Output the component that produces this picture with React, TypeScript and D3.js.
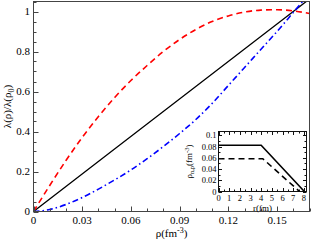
import React from "react";
import * as d3 from "d3";

const rho = [0, 0.01, 0.02, 0.03, 0.04, 0.05, 0.06, 0.07, 0.08, 0.09, 0.1, 0.11, 0.12, 0.13, 0.14, 0.15, 0.16, 0.17];
const redVals = [0, 0.13, 0.255, 0.37, 0.475, 0.57, 0.655, 0.73, 0.8, 0.86, 0.91, 0.95, 0.978, 0.997, 1.007, 1.009, 1.003, 0.99];
const blueVals = [0, 0.01, 0.035, 0.07, 0.112, 0.158, 0.208, 0.264, 0.325, 0.39, 0.46, 0.54, 0.63, 0.72, 0.81, 0.9, 0.995, 1.09];
const blackRho = [0, 0.16, 0.17];
const blackVals = [0, 1, 1.0625];

const xTicks = [0, 0.03, 0.06, 0.09, 0.12, 0.15];
const xTickLabels = ["0", "0.03", "0.06", "0.09", "0.12", "0.15"];
const yTicks = [0, 0.2, 0.4, 0.6, 0.8, 1];
const yTickLabels = ["0", "0.2", "0.4", "0.6", "0.8", "1"];

const insetR = [0, 4, 8.05];
const insetSolid = [0.0825, 0.0825, 0];
const insetDashR = [0, 4.15, 7.6];
const insetDash = [0.0585, 0.0585, 0];
const insetXTicks = [0, 1, 2, 3, 4, 5, 6, 7, 8];
const insetYTicks = [0, 0.02, 0.04, 0.06, 0.08, 0.1];
const insetYTickLabels = ["0", "0.02", "0.04", "0.06", "0.08", "0.1"];

const FONT = "'Liberation Serif', 'Times New Roman', serif";

export default function App() {
  const W = 311, H = 241;
  const L = 33.5, R = 309.5, T = 1.5, B = 211.5;
  const x = d3.scaleLinear().domain([0, 0.17]).range([L, R]);
  const y = d3.scaleLinear().domain([0, 1.05]).range([B, T]);

  const mk = (xs: number[], ys: number[]) =>
    d3.line<number>().x((_, i) => x(xs[i])).y((_, i) => y(ys[i])).curve(d3.curveMonotoneX)(xs.map((_, i) => i)) || "";

  const xMinor = d3.range(0, 0.1701, 0.01).filter((v) => Math.abs(v / 0.03 - Math.round(v / 0.03)) > 1e-6);
  const yMinor = d3.range(0, 1.0501, 0.05).filter((v) => Math.abs(v / 0.2 - Math.round(v / 0.2)) > 1e-6);

  // inset
  const iL = 218.5, iR = 306.5, iT = 131.5, iB = 191.5;
  const ix = d3.scaleLinear().domain([0, 8.25]).range([iL, iR]);
  const iy = d3.scaleLinear().domain([0, 0.107]).range([iB, iT]);
  const iline = (xs: number[], ys: number[]) =>
    d3.line<number>().x((_, i) => ix(xs[i])).y((_, i) => iy(ys[i]))(xs.map((_, i) => i)) || "";
  const ixMinor = d3.range(0.5, 8.25, 1);
  const iyMinor = d3.range(0.01, 0.107, 0.02);

  return (
    <svg width={W} height={H} style={{ position: "fixed", left: 0, top: 0, background: "#fff" }} fontFamily={FONT}>
      <defs>
        <clipPath id="plotClip">
          <rect x={L} y={T} width={R - L} height={B - T} />
        </clipPath>
      </defs>
      <rect x={0} y={0} width={W} height={H} fill="#fff" />
      {/* curves */}
      <g clipPath="url(#plotClip)" fill="none">
        <path d={mk(blackRho, blackVals)} stroke="#000" strokeWidth={1.3} />
        <path d={mk(rho, redVals)} stroke="#ff0000" strokeWidth={1.6} strokeDasharray="6,4" />
        <path d={mk(rho, blueVals)} stroke="#0000ff" strokeWidth={1.6} strokeDasharray="6,3,1.5,3" />
      </g>
      {/* frame */}
      <rect x={L} y={T} width={R - L} height={B - T} fill="none" stroke="#444" strokeWidth={1} />
      {/* x ticks */}
      {xTicks.map((t, i) => (
        <g key={"xt" + i}>
          <line x1={Math.round(x(t)) + 0.5} x2={Math.round(x(t)) + 0.5} y1={B} y2={B - 5} stroke="#444" />
          <text x={x(t)} y={224} fontSize={11} textAnchor="middle">{xTickLabels[i]}</text>
        </g>
      ))}
      {xMinor.map((t, i) => (
        <line key={"xm" + i} x1={Math.round(x(t)) + 0.5} x2={Math.round(x(t)) + 0.5} y1={B} y2={B - 3} stroke="#444" />
      ))}
      {yTicks.map((t, i) => (
        <g key={"yt" + i}>
          <line x1={L} x2={L + 5} y1={Math.round(y(t)) + 0.5} y2={Math.round(y(t)) + 0.5} stroke="#444" />
          <text x={30} y={y(t) + 3.8} fontSize={11} textAnchor="end">{yTickLabels[i]}</text>
        </g>
      ))}
      {yMinor.map((t, i) => (
        <line key={"ym" + i} x1={L} x2={L + 3} y1={Math.round(y(t)) + 0.5} y2={Math.round(y(t)) + 0.5} stroke="#444" />
      ))}
      {/* axis labels */}
      <text x={(L + R) / 2} y={237} fontSize={11} textAnchor="middle">
        ρ(fm<tspan dy={-4} fontSize={8}>-3</tspan><tspan dy={4}>)</tspan>
      </text>
      <text transform={`translate(11,${(T + B) / 2}) rotate(-90)`} fontSize={11} textAnchor="middle">
        λ(ρ)/λ(ρ<tspan dy={3} fontSize={8}>0</tspan><tspan dy={-3}>)</tspan>
      </text>

      {/* inset */}
      <rect x={iL} y={iT} width={iR - iL} height={iB - iT} fill="#fff" stroke="#111" strokeWidth={1} />
      <g fill="none">
        <path d={iline(insetR, insetSolid)} stroke="#000" strokeWidth={1.6} />
        <path d={iline(insetDashR, insetDash)} stroke="#000" strokeWidth={1.6} strokeDasharray="6,4" />
      </g>
      {insetXTicks.map((t, i) => (
        <g key={"ixt" + i}>
          <line x1={Math.round(ix(t)) + 0.5} x2={Math.round(ix(t)) + 0.5} y1={iB} y2={iB - 3.5} stroke="#111" />
          <line x1={Math.round(ix(t)) + 0.5} x2={Math.round(ix(t)) + 0.5} y1={iT} y2={iT + 3.5} stroke="#111" />
          <text x={ix(t)} y={201} fontSize={8.5} textAnchor="middle">{t}</text>
        </g>
      ))}
      {ixMinor.map((t, i) => (
        <g key={"ixm" + i}>
          <line x1={Math.round(ix(t)) + 0.5} x2={Math.round(ix(t)) + 0.5} y1={iB} y2={iB - 2} stroke="#111" />
          <line x1={Math.round(ix(t)) + 0.5} x2={Math.round(ix(t)) + 0.5} y1={iT} y2={iT + 2} stroke="#111" />
        </g>
      ))}
      {insetYTicks.map((t, i) => (
        <g key={"iyt" + i}>
          <line x1={iL} x2={iL + 3.5} y1={Math.round(iy(t)) + 0.5} y2={Math.round(iy(t)) + 0.5} stroke="#111" />
          <line x1={iR} x2={iR - 3.5} y1={Math.round(iy(t)) + 0.5} y2={Math.round(iy(t)) + 0.5} stroke="#111" />
          <text x={216.5} y={iy(t) + 3} fontSize={8.5} textAnchor="end">{insetYTickLabels[i]}</text>
        </g>
      ))}
      {iyMinor.map((t, i) => (
        <g key={"iym" + i}>
          <line x1={iL} x2={iL + 2} y1={Math.round(iy(t)) + 0.5} y2={Math.round(iy(t)) + 0.5} stroke="#111" />
          <line x1={iR} x2={iR - 2} y1={Math.round(iy(t)) + 0.5} y2={Math.round(iy(t)) + 0.5} stroke="#111" />
        </g>
      ))}
      <text x={(iL + iR) / 2} y={210.5} fontSize={9} textAnchor="middle">r(fm)</text>
      <text transform={`translate(192,${(iT + iB) / 2}) rotate(-90)`} fontSize={9} textAnchor="middle">
        ρ<tspan dy={2} fontSize={6.5}>n,p</tspan><tspan dy={-2}>(fm</tspan><tspan dy={-3.5} fontSize={6.5}>-3</tspan><tspan dy={3.5}>)</tspan>
      </text>
    </svg>
  );
}
